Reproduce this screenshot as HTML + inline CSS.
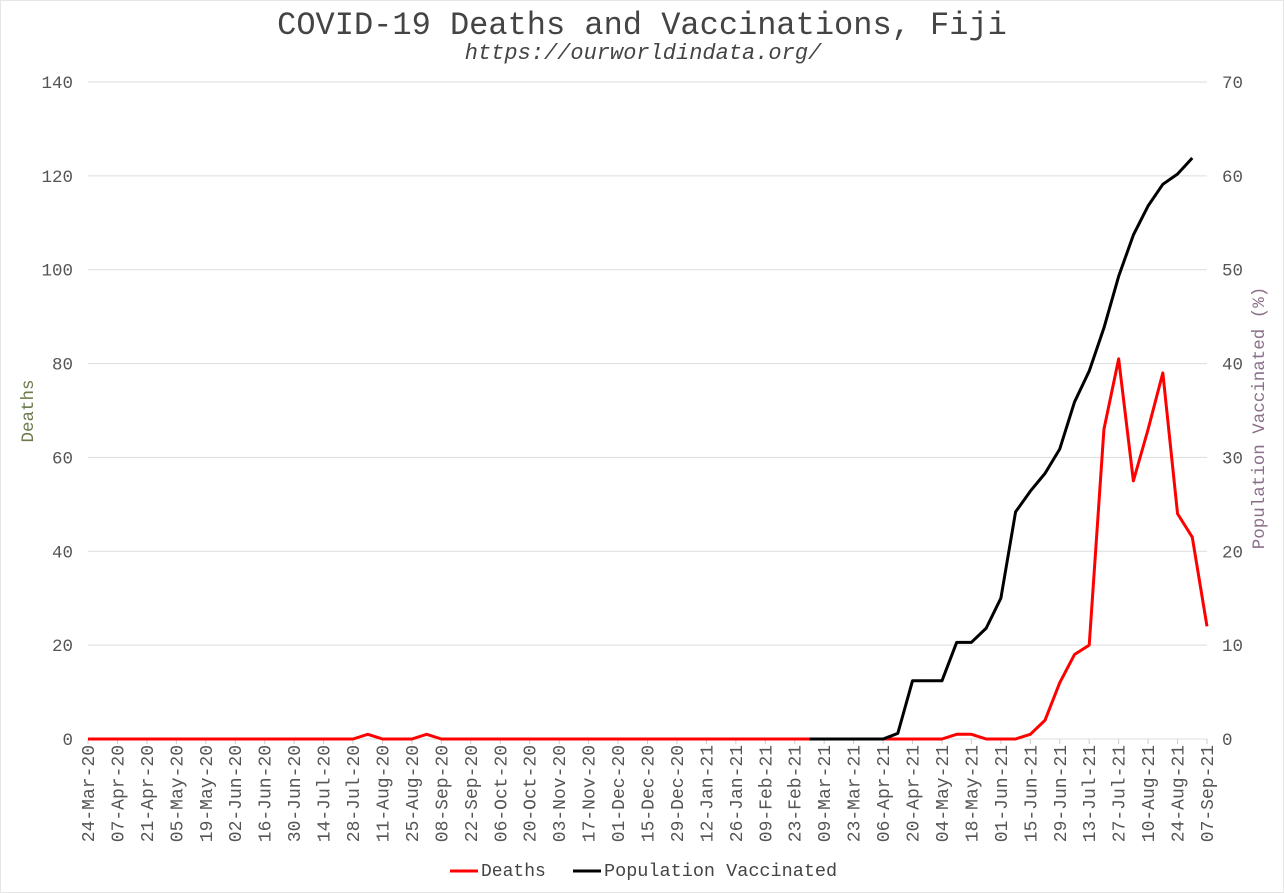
<!DOCTYPE html>
<html><head><meta charset="utf-8"><style>
body{margin:0;background:#fff}
svg{display:block;font-family:"Liberation Mono",monospace}
</style></head><body>
<svg id="chart" width="1284" height="893">
<rect x="0.5" y="0.5" width="1283" height="892" fill="#fff" stroke="#e6e6e6"/>
<text x="642" y="34" text-anchor="middle" font-size="32" fill="#444">COVID-19 Deaths and Vaccinations, Fiji</text>
<text x="643" y="59" text-anchor="middle" font-size="22" font-style="italic" fill="#444">https://ourworldindata.org/</text>
<g id="grid"></g><g id="xaxis"></g><g id="series"></g>
<text transform="translate(33,411) rotate(-90)" text-anchor="middle" font-size="17.5" fill="#6b7a4a">Deaths</text>
<text transform="translate(1264,418) rotate(-90)" text-anchor="middle" font-size="17.5" fill="#8a6f8a">Population Vaccinated (%)</text>
<g>
<line x1="450" y1="871" x2="478" y2="871" stroke="#f00" stroke-width="3"/>
<text x="481" y="876" font-size="18" fill="#444">Deaths</text>
<line x1="573" y1="871" x2="601" y2="871" stroke="#000" stroke-width="3"/>
<text x="604" y="876" font-size="18.5" fill="#444">Population Vaccinated</text>
</g>
</svg>
<script>
const startDate = "2020-03-24";
const deaths = [0,0,0,0,0,0,0,0,0,0,0,0,0,0,0,0,0,0,0,1,0,0,0,1,0,0,0,0,0,0,0,0,0,0,0,0,0,0,0,0,0,0,0,0,0,0,0,0,0,0,0,0,0,0,0,0,0,0,0,1,1,0,0,0,1,4,12,18,20,66,81,55,66,78,48,43,24];
const vaccinated = [null,null,null,null,null,null,null,null,null,null,null,null,null,null,null,null,null,null,null,null,null,null,null,null,null,null,null,null,null,null,null,null,null,null,null,null,null,null,null,null,null,null,null,null,null,null,null,null,null,0,0,0,0,0,0,0.6,6.2,6.2,6.2,10.3,10.3,11.8,15.0,24.2,26.4,28.3,30.9,35.9,39.2,43.8,49.3,53.7,56.8,59.1,60.2,61.9];
const leftTicks = [0,20,40,60,80,100,120,140];
const rightTicks = [0,10,20,30,40,50,60,70];
const months = ["Jan","Feb","Mar","Apr","May","Jun","Jul","Aug","Sep","Oct","Nov","Dec"];
const X0=88,X1=1207,Y0=739,Y1=82,N=deaths.length;
const xs=i=>X0+(X1-X0)*i/(N-1);
const yl=v=>Y0-(Y0-Y1)*v/140;
const yr=v=>Y0-(Y0-Y1)*v/70;
const NS="http://www.w3.org/2000/svg";
function mk(p,t,a){const e=document.createElementNS(NS,t);for(const k in a)e.setAttribute(k,a[k]);p.appendChild(e);return e;}
const g=document.getElementById('grid'),xa=document.getElementById('xaxis'),s=document.getElementById('series');
leftTicks.forEach((v,i)=>{
 const l=mk(g,'line',{x1:X0,x2:X1,y1:yl(v),y2:yl(v),stroke:'#ddd','stroke-width':1});
 
 
 const t=mk(g,'text',{x:73,y:yl(v)+6,'text-anchor':'end','font-size':17.5,fill:'#555'});t.textContent=v;
 
 
 const r=mk(g,'text',{x:1222,y:yr(rightTicks[i])+6,'font-size':17.5,fill:'#555'});r.textContent=rightTicks[i];
 
 
});
const d0=new Date(startDate+"T00:00:00Z");
for(let i=0;i<N;i+=2){
 const d=new Date(d0.getTime()+i*7*864e5);
 const lab=String(d.getUTCDate()).padStart(2,'0')+'-'+months[d.getUTCMonth()]+'-'+String(d.getUTCFullYear()).slice(2);
 const x=xs(i);
 const tk=mk(xa,'line',{x1:x,x2:x,y1:Y0,y2:Y0+5,stroke:'#ccc'});
 
 
 const t=mk(xa,'text',{transform:`translate(${x+6},${Y0+6}) rotate(-90)`,'text-anchor':'end','font-size':18,fill:'#555'});t.textContent=lab;
 
 
}
const pd=deaths.map((v,i)=>xs(i)+','+yl(v)).join(' ');
const p1=mk(s,'polyline',{points:pd,fill:'none',stroke:'#f00','stroke-width':3,'stroke-linejoin':'round'});


const pv=vaccinated.map((v,i)=>v==null?null:xs(i)+','+yr(v)).filter(p=>p).join(' ');
const p2=mk(s,'polyline',{points:pv,fill:'none',stroke:'#000','stroke-width':3,'stroke-linejoin':'round'});


</script>
</body></html>
